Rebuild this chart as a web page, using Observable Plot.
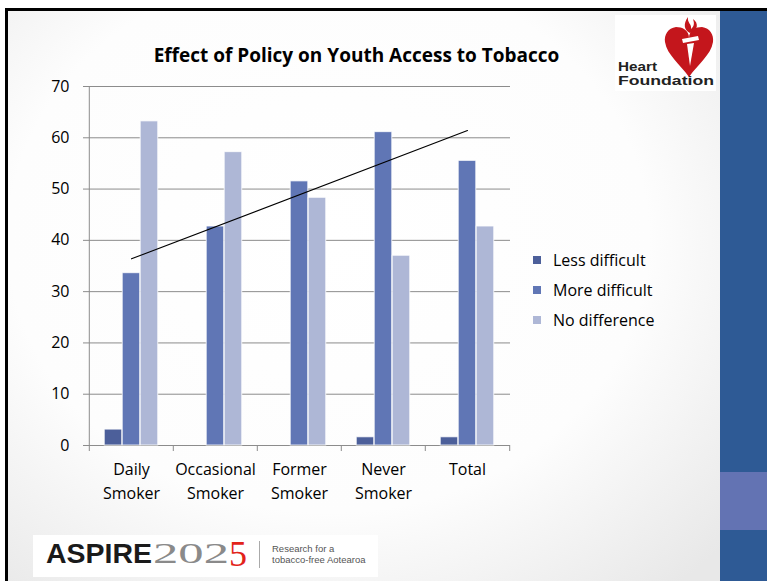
<!DOCTYPE html>
<html><head><meta charset="utf-8">
<script src="https://cdn.jsdelivr.net/npm/d3@7"></script>
<script src="https://cdn.jsdelivr.net/npm/@observablehq/plot@0.6"></script>
<style>
html,body{margin:0;padding:0;}
body{width:767px;height:581px;position:relative;overflow:hidden;background:#fff;font-family:"Open Sans",sans-serif;}
#slide{position:absolute;left:8px;top:11px;width:712px;height:570px;background:radial-gradient(ellipse 75% 80% at 45% 40%, #ffffff 0%, #fdfdfd 60%, #e8e8e8 100%);}
#topbar{position:absolute;left:5px;top:8px;width:762px;height:3px;background:#000;}
#leftbar{position:absolute;left:5px;top:8px;width:3px;height:573px;background:#000;}
#panel{position:absolute;left:720px;top:11px;width:47px;height:570px;background:#2E5A95;}
#band{position:absolute;left:720px;top:472px;width:47px;height:58px;background:#6373B3;}
#title{position:absolute;left:0;width:713px;top:42px;text-align:center;font-weight:700;font-size:19px;color:#000;line-height:26px;}
#chart{position:absolute;left:0;top:70px;}
#legend{position:absolute;left:533px;top:248px;}
.row{position:relative;height:30px;font-size:16px;line-height:24px;color:#000;}
.sw{position:absolute;left:0;top:8px;width:8px;height:8px;}
.lab{position:absolute;left:20px;top:0;white-space:nowrap;}
#decor{position:absolute;left:0;top:0;}
</style>
</head><body>
<div id="slide"></div>
<div id="topbar"></div>
<div id="leftbar"></div>
<div id="panel"></div>
<div id="band"></div>
<svg id="decor" width="767" height="581">
  <!-- Heart Foundation logo -->
  <rect x="615" y="15" width="101" height="76" fill="#fff"/>
  <path d="M689,38 C689,30 682,27 676,27 C668,28 664,35 665,42 C667,55 680,64 689,77 C698,64 711,55 713,42 C714,35 710,28 702,27 C696,27 689,30 689,38 Z" fill="#C4161C"/>
  <path d="M690,33 C684,30 683,24 688,17 C687,23 692,24 691,29 C695,26 694,22 693,19 C699,23 698,31 690,33 Z" fill="#C4161C"/>
  <path d="M682,39 L698,36 L699,40 L683,43 Z" fill="#fff"/>
  <path d="M687,44 L694,43 L690,66 Z" fill="#fff"/>
  <text x="618" y="71" font-family="Liberation Sans, Arial, sans-serif" font-weight="700" font-size="13" textLength="39" lengthAdjust="spacingAndGlyphs" fill="#222">Heart</text>
  <text x="618" y="85" font-family="Liberation Sans, Arial, sans-serif" font-weight="700" font-size="13" textLength="96" lengthAdjust="spacingAndGlyphs" fill="#222">Foundation</text>
  <!-- ASPIRE2025 logo -->
  <rect x="33" y="535" width="345" height="42" fill="#fff"/>
  <text x="46" y="563" font-family="Liberation Sans, Arial, sans-serif" font-weight="700" font-size="28" textLength="106" lengthAdjust="spacingAndGlyphs" fill="#1a1a1a">ASPIRE</text>
  <text x="153" y="563" font-family="Liberation Serif, serif" font-size="30" textLength="76" lengthAdjust="spacingAndGlyphs" fill="#8a8a8a">202</text>
  <text x="229" y="566" font-family="Liberation Serif, serif" font-size="36" fill="#E2231A">5</text>
  <line x1="259.5" y1="541" x2="259.5" y2="568" stroke="#aaa" stroke-width="1"/>
  <text x="272" y="552" font-family="Liberation Sans, Arial, sans-serif" font-size="9.5" fill="#555">Research for a</text>
  <text x="272" y="563" font-family="Liberation Sans, Arial, sans-serif" font-size="9.5" fill="#555">tobacco-free Aotearoa</text>
</svg>
<div id="title">Effect of Policy on Youth Access to Tobacco</div>
<div id="chart"></div>
<div id="legend"></div>
<script>
// ---- data ----
const categories = ["Daily Smoker", "Occasional Smoker", "Former Smoker", "Never Smoker", "Total"];
const categoryLabels = ["Daily\nSmoker", "Occasional\nSmoker", "Former\nSmoker", "Never\nSmoker", "Total"];
const seriesNames = ["Less difficult", "More difficult", "No difference"];
const lessDifficult = [3.1, 0, 0, 1.6, 1.6];
const moreDifficult = [33.6, 42.7, 51.5, 61.1, 55.5];
const noDifference = [63.2, 57.2, 48.3, 37.0, 42.7];
const trendCategories = ["Daily Smoker", "Total"];
const trendValues = [36.4, 61.4];
const yTicks = [0, 10, 20, 30, 40, 50, 60, 70];
const seriesColors = ["#4C5F9A", "#6076B5", "#AEB7D6"];

// ---- build tables ----
const seriesValues = [lessDifficult, moreDifficult, noDifference];
const rows = [];
seriesNames.forEach((s, si) => categories.forEach((c, ci) => rows.push({cat: c, series: s, value: seriesValues[si][ci]})));
const trend = trendCategories.map((c, i) => ({cat: c, v: trendValues[i]}));
const labelOf = new Map(categories.map((c, i) => [c, categoryLabels[i]]));

const W = 520, H = 450, ML = 88, MR = 10, MT = 16, MB = 75;
const bw = (W - ML - MR) / categories.length;
const plotH = H - MT - MB;
const barW = bw * 0.213;
const grid = "#8c8c8c";

const barMarks = seriesNames.map((s, si) => {
  const left = bw / 2 - 1.5 * barW + si * barW;
  return Plot.barY(rows.filter(d => d.series === s && d.value > 0), {
    x: "cat", y: "value", fill: seriesColors[si],
    stroke: "#ffffff", strokeWidth: 1, strokeOpacity: 0.8,
    insetLeft: left, insetRight: bw - left - barW
  });
});

const chart = Plot.plot({
  width: W, height: H,
  marginLeft: ML, marginRight: MR, marginTop: MT, marginBottom: MB,
  style: {fontFamily: "Open Sans, sans-serif", fontSize: "16px", background: "transparent", color: "#000"},
  x: {domain: categories, padding: 0, axis: null},
  y: {domain: [0, 70], axis: null},
  marks: [
    Plot.ruleY(yTicks, {y: d => d, stroke: grid, strokeWidth: 1, insetLeft: -5}),
    Plot.ruleX([categories[0]], {x: d => d, dx: -bw / 2, stroke: grid, strokeWidth: 1}),
    Plot.ruleX(categories, {x: d => d, dx: -bw / 2, stroke: grid, insetTop: plotH, insetBottom: -6}),
    Plot.ruleX([categories[categories.length - 1]], {x: d => d, dx: bw / 2, stroke: grid, insetTop: plotH, insetBottom: -6}),
    ...barMarks,
    Plot.line(trend, {x: "cat", y: "v", stroke: "#000", strokeWidth: 1.1}),
    Plot.text(yTicks, {y: d => d, text: d => String(d), frameAnchor: "left", dx: -19, textAnchor: "end", fill: "#000", fontSize: 16}),
    Plot.text(categories, {x: d => d, y: 0, text: d => labelOf.get(d), dy: 13, lineAnchor: "top", lineHeight: 1.47, fill: "#000", fontSize: 16})
  ]
});
document.getElementById("chart").appendChild(chart);

// legend
const legend = document.getElementById("legend");
seriesNames.forEach((s, i) => {
  const row = document.createElement("div");
  row.className = "row";
  row.innerHTML = `<div class="sw" style="background:${seriesColors[i]}"></div><div class="lab">${s}</div>`;
  legend.appendChild(row);
});
</script>
</body></html>
